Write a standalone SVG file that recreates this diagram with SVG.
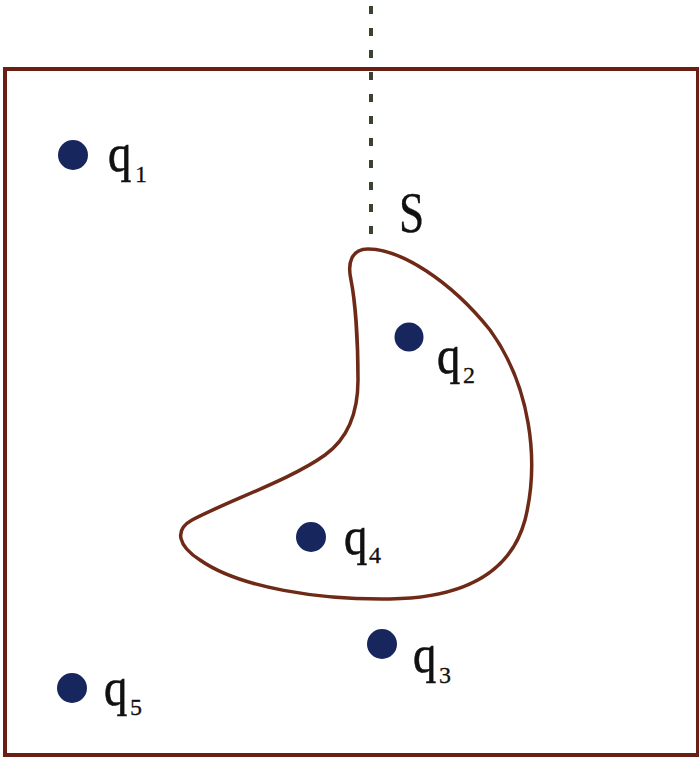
<svg xmlns="http://www.w3.org/2000/svg" width="699" height="760" viewBox="0 0 699 760">
<style>
.frame{fill:none;stroke:#6a1f14;stroke-width:4}
.surf{fill:none;stroke:#6e2a16;stroke-width:3.5}
.dash{stroke:#3a4230;stroke-width:4;stroke-dasharray:8 14}
.dot{fill:#17275e}
.lbl{font-family:"Liberation Serif","Times New Roman",serif;fill:#111;stroke:#111;stroke-width:0.6}
.q{font-size:53px}
.sub{font-size:24px;stroke-width:0.3}
.s{font-size:58px;stroke-width:0.4}
</style>
<rect width="699" height="760" fill="#ffffff"/>
<g id="frame">
<path class="frame" d="M5,755 L5,69 L698,69 L698,755 Z"/>
</g>
<g id="connectors">
<line class="dash" x1="371" y1="6" x2="371" y2="242"/>
</g>
<g id="surface">
<path class="surf" d="M351,280 C347,262 352,249 368,249 C400,249 450,280 490,330 C530,385 540,460 525,520 C510,575 460,598 390,599 C320,600 240,588 200,560 C178,546 174,530 192,520 C230,500 290,480 325,455 C350,437 358,410 358,380 C358,340 355,300 351,280 Z"/>
<text class="lbl s" transform="translate(399,232) scale(0.78,1)">S</text>
</g>
<g id="q1">
<circle class="dot" cx="73" cy="155" r="15"/>
<text class="lbl q" transform="translate(108,171) scale(0.88,1)">q</text>
<text class="lbl sub" x="135" y="182">1</text>
</g>
<g id="q2">
<circle class="dot" cx="409" cy="337" r="14.5"/>
<text class="lbl q" transform="translate(437,373) scale(0.88,1)">q</text>
<text class="lbl sub" x="463" y="383">2</text>
</g>
<g id="q4">
<circle class="dot" cx="311" cy="537" r="15"/>
<text class="lbl q" transform="translate(344,554) scale(0.88,1)">q</text>
<text class="lbl sub" x="369" y="563">4</text>
</g>
<g id="q3">
<circle class="dot" cx="382" cy="644" r="15"/>
<text class="lbl q" transform="translate(413,672) scale(0.88,1)">q</text>
<text class="lbl sub" x="439" y="683">3</text>
</g>
<g id="q5">
<circle class="dot" cx="72" cy="688" r="15"/>
<text class="lbl q" transform="translate(104,705) scale(0.88,1)">q</text>
<text class="lbl sub" x="130" y="715">5</text>
</g>
</svg>
